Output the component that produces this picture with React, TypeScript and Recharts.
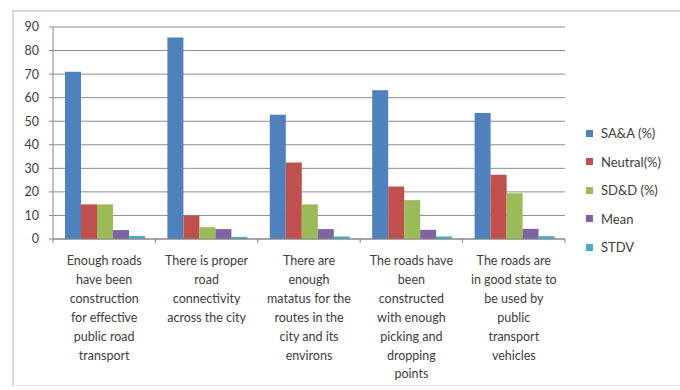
import { Bar, BarChart, CartesianGrid, Legend, XAxis, YAxis } from 'recharts';

const CATEGORIES = [
  'Enough roads\nhave been\nconstruction\nfor effective\npublic road\ntransport',
  'There is proper\nroad\nconnectivity\nacross the city',
  'There are\nenough\nmatatus for the\nroutes in the\ncity and its\nenvirons',
  'The roads have\nbeen\nconstructed\nwith enough\npicking and\ndropping\npoints',
  'The roads are\nin good state to\nbe used by\npublic\ntransport\nvehicles',
];

const SAA = [71, 85.5, 52.7, 63.2, 53.5];
const NEUTRAL = [14.7, 10, 32.5, 22.3, 27.3];
const SDD = [14.7, 5, 14.7, 16.5, 19.4];
const MEAN = [3.8, 4.2, 4.2, 3.9, 4.3];
const STDV = [1.3, 0.9, 1.1, 1.1, 1.2];

const Y_TICKS = [0, 10, 20, 30, 40, 50, 60, 70, 80, 90];

const SERIES = [
  { key: 'saa', name: 'SA&A (%)', color: '#4F81BD' },
  { key: 'neutral', name: 'Neutral(%)', color: '#C0504D' },
  { key: 'sdd', name: 'SD&D (%)', color: '#9BBB59' },
  { key: 'mean', name: 'Mean', color: '#8064A2' },
  { key: 'stdv', name: 'STDV', color: '#4BACC6' },
];

const data = CATEGORIES.map((category, i) => ({
  category,
  saa: SAA[i],
  neutral: NEUTRAL[i],
  sdd: SDD[i],
  mean: MEAN[i],
  stdv: STDV[i],
}));

const FONT = 'Lato, "Open Sans", sans-serif';
const TEXT = '#404040';
const AXIS = '#868686';
const WIDTH = 680;
const HEIGHT = 390;
const LEGEND_WIDTH = 94;
const Y_AXIS_WIDTH = 53;
// plot area spans x 53..565, y 27..239 (x axis keeps its default 30px height)
const MARGIN = { top: 27, right: 115 - LEGEND_WIDTH, bottom: 121, left: 0 };
const HALF_BAND = (565 - Y_AXIS_WIDTH) / CATEGORIES.length / 2;

// wrapped category label plus the small divider marks between categories
const renderCategoryTick = (props: any) => {
  const { x, y, payload, index } = props;
  const lines = String(payload.value).split('\n');
  return (
    <g>
      <path d={`M${x + HALF_BAND},${y - 8}v4`} stroke={AXIS} fill="none" />
      {index === 0 && <path d={`M${x - HALF_BAND},${y - 8}v4`} stroke={AXIS} fill="none" />}
      <text textAnchor="middle" fontFamily={FONT} fontSize={12.5} fill={TEXT}>
        {lines.map((line, i) => (
          <tspan key={i} x={x} y={y + 18 + i * 18.9}>
            {line}
          </tspan>
        ))}
      </text>
    </g>
  );
};

function LegendBox() {
  return (
    <div style={{ fontFamily: FONT, fontSize: 13, color: TEXT }}>
      {SERIES.map((s) => (
        <div key={s.key} style={{ display: 'flex', alignItems: 'center', height: 28.5 }}>
          <span style={{ width: 7, height: 7, background: s.color, marginRight: 8 }} />
          <span>{s.name}</span>
        </div>
      ))}
    </div>
  );
}

export default function App() {
  return (
    <div style={{ position: 'absolute', top: 0, left: 0, width: WIDTH, height: HEIGHT, background: '#fff' }}>
      <div
        style={{
          position: 'absolute',
          left: 12,
          top: 10,
          width: WIDTH,
          height: 376,
          borderTop: '2px solid #d6d6d6',
          borderLeft: '2px solid #d6d6d6',
          borderBottom: '1px solid #e6e6e6',
          boxSizing: 'border-box',
        }}
      />
      <BarChart
        width={WIDTH}
        height={HEIGHT}
        data={data}
        margin={MARGIN}
        barCategoryGap={12}
        barGap={0}
        style={{ position: 'absolute', top: 0, left: 0 }}
      >
        <CartesianGrid stroke="#8c8c8c" vertical={false} />
        <XAxis
          dataKey="category"
          interval={0}
          stroke={AXIS}
          tickLine={false}
          tick={renderCategoryTick}
        />
        <YAxis
          domain={[0, 90]}
          ticks={Y_TICKS}
          width={Y_AXIS_WIDTH}
          stroke={AXIS}
          tickSize={4}
          tickMargin={10}
          tick={{ fill: TEXT, fontSize: 12.5, fontFamily: FONT }}
        />
        <Legend
          layout="vertical"
          align="right"
          verticalAlign="top"
          content={<LegendBox />}
          wrapperStyle={{ left: 586, top: 119, width: LEGEND_WIDTH }}
        />
        {SERIES.map((s) => (
          <Bar key={s.key} dataKey={s.key} name={s.name} fill={s.color} isAnimationActive={false} />
        ))}
      </BarChart>
    </div>
  );
}
